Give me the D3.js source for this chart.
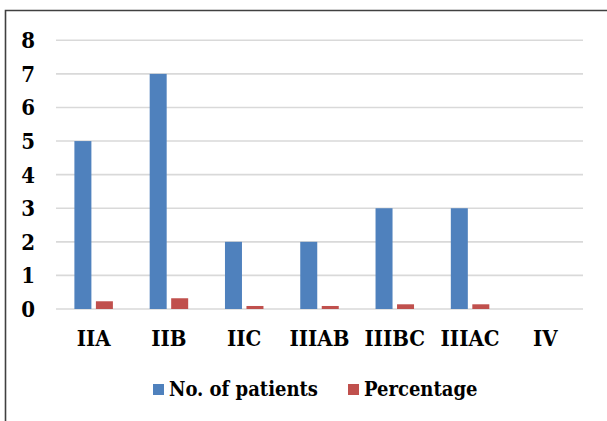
<!DOCTYPE html>
<html><head><meta charset="utf-8">
<script src="https://cdn.jsdelivr.net/npm/d3@7"></script>
<style>body{margin:0;background:#fff}svg{display:block}
svg text{font-family:"DejaVu Serif","Liberation Serif",serif;font-weight:bold;font-stretch:condensed;}
</style>
</head><body>
<svg id="c" width="607" height="421"></svg>
<script>
const categories = ["IIA","IIB","IIC","IIIAB","IIIBC","IIIAC","IV"];
const patients = [5,7,2,2,3,3,0];
const percentage = [0.23,0.32,0.09,0.09,0.14,0.14,0];
const seriesNames = ["No. of patients","Percentage"];
const yTicks = [0,1,2,3,4,5,6,7,8];
const colors = ["#4F81BD","#C0504D"];

const svg = d3.select("#c");

// frame
svg.append("path").attr("d","M5.5,421 L5.5,10.5 L607,10.5")
  .attr("fill","none").attr("stroke","#404040").attr("stroke-width",1.6);

const x = d3.scaleBand().domain(categories).range([56,583]);
const y = d3.scaleLinear().domain([0,8]).range([309,40.3]);

// gridlines
svg.append("g").selectAll("line").data(yTicks).join("line")
  .attr("x1",56).attr("x2",583)
  .attr("y1",d=>y(d)).attr("y2",d=>y(d))
  .attr("stroke","#d9d9d9").attr("stroke-width",1.6);

// y labels
svg.append("g").selectAll("text").data(yTicks).join("text")
  .attr("x",35).attr("y",d=>y(d)+8)
  .attr("text-anchor","end")
  .attr("font-size",22)
  .attr("fill","#000").text(d=>d);

const bw = 17, gap = 4.5;
const data = categories.map((c,i)=>({c, v:[patients[i], percentage[i]]}));
const g = svg.append("g");
[0,1].forEach(s=>{
  g.selectAll(".s"+s).data(data).join("rect")
    .attr("class","s"+s)
    .attr("x",d=> x(d.c)+x.bandwidth()/2 + (s===0 ? -gap/2-bw : gap/2))
    .attr("width",bw)
    .attr("y",d=>y(d.v[s]))
    .attr("height",d=>y(0)-y(d.v[s]))
    .attr("fill",colors[s]);
});

// x labels
svg.append("g").selectAll("text").data(categories).join("text")
  .attr("x",d=>x(d)+x.bandwidth()/2)
  .attr("y",346)
  .attr("text-anchor","middle")
  .attr("font-size",22)
  .attr("fill","#000").text(d=>d);

// legend
const legX = [153,348];
const lg = svg.append("g");
seriesNames.forEach((n,i)=>{
  lg.append("rect").attr("x",legX[i]).attr("y",384).attr("width",11).attr("height",11).attr("fill",colors[i]);
  lg.append("text").attr("x",legX[i]+16).attr("y",396)
    .attr("font-size",20)
    .attr("fill","#000").text(n);
});
</script>
</body></html>
